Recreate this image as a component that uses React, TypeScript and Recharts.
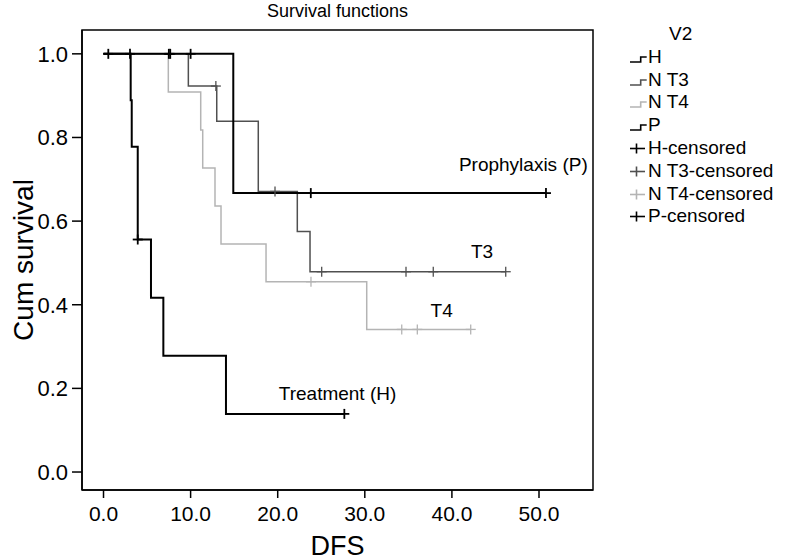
import {
  ComposedChart,
  Line,
  Scatter,
  XAxis,
  YAxis,
  ReferenceArea,
  ReferenceDot,
} from "recharts";

// Kaplan-Meier steps (time in DFS units, cumulative survival)
const hTimes = [0, 3.12, 3.24, 3.93, 5.45, 6.87, 14.06, 27.65];
const hSurv = [1, 0.889, 0.778, 0.556, 0.417, 0.278, 0.139, 0.139];
const hCensTimes = [3.93, 27.65];
const hCensSurv = [0.556, 0.139];

const t3Times = [0, 9.74, 13.0, 17.77, 22.25, 23.71, 46.18];
const t3Surv = [1, 0.923, 0.839, 0.671, 0.575, 0.479, 0.479];
const t3CensTimes = [12.9, 19.69, 25.05, 34.73, 37.86, 46.18];
const t3CensSurv = [0.923, 0.671, 0.479, 0.479, 0.479, 0.479];

const t4Times = [0, 7.44, 11.16, 11.39, 12.8, 13.49, 18.66, 30.22, 42.16];
const t4Surv = [1, 0.909, 0.818, 0.727, 0.636, 0.545, 0.455, 0.341, 0.341];
const t4CensTimes = [23.82, 34.24, 36.03, 42.16];
const t4CensSurv = [0.455, 0.341, 0.341, 0.341];

const pTimes = [0, 14.9, 50.8];
const pSurv = [1, 0.667, 0.667];
const pCensTimes = [0.55, 3.04, 7.5, 7.66, 10.0, 23.8, 50.8];
const pCensSurv = [1, 1, 1, 1, 1, 0.667, 0.667];

const xTicks = [0, 10, 20, 30, 40, 50];
const yTicks = [0, 0.2, 0.4, 0.6, 0.8, 1.0];

const legendLabels = ["H", "N T3", "N T4", "P"];

const X_MIN = -2.47;
const X_MAX = 56.2;
const Y_MIN = -0.043;
const Y_MAX = 1.057;

const FONT = "'Liberation Sans', Arial, Helvetica, sans-serif";

const BLACK = "#000000";
const DARK = "#505050";
const LIGHT = "#b4b4b4";
const colors = [BLACK, DARK, LIGHT, BLACK];
const widths = [2, 1.5, 1.5, 2];

const toPoints = (t: number[], s: number[]) => t.map((v, i) => ({ t: v, s: s[i] }));

const makeCross = (color: string, w: number) => (props: any) => {
  const { cx, cy } = props;
  if (cx == null || cy == null) return <g />;
  return (
    <g>
      <line x1={cx - 5} x2={cx + 5} y1={cy} y2={cy} stroke={color} strokeWidth={w} />
      <line x1={cx} x2={cx} y1={cy - 5} y2={cy + 5} stroke={color} strokeWidth={w} />
    </g>
  );
};

const annotations = [
  { t: 48.2, s: 0.735, text: "Prophylaxis (P)" },
  { t: 43.46, s: 0.527, text: "T3" },
  { t: 38.83, s: 0.386, text: "T4" },
  { t: 26.87, s: 0.189, text: "Treatment (H)" },
];

const ROW = 22.8;

function StepIcon({ color }: { color: string }) {
  return (
    <svg width={18} height={ROW} style={{ display: "block" }}>
      <polyline
        points="0,16 10.7,16 10.7,11 16.7,11"
        fill="none"
        stroke={color}
        strokeWidth={1.6}
      />
    </svg>
  );
}

function CrossIcon({ color }: { color: string }) {
  return (
    <svg width={18} height={ROW} style={{ display: "block" }}>
      <line x1={0} x2={15} y1={11.5} y2={11.5} stroke={color} strokeWidth={1.6} />
      <line x1={6.5} x2={6.5} y1={6.5} y2={16.5} stroke={color} strokeWidth={1.6} />
    </svg>
  );
}

function ChartLegend() {
  const rows = [
    ...legendLabels.map((l, i) => ({ label: l, icon: <StepIcon color={colors[i]} /> })),
    ...legendLabels.map((l, i) => ({
      label: l + "-censored",
      icon: <CrossIcon color={colors[i]} />,
    })),
  ];
  return (
    <div style={{ position: "absolute", left: 630, top: 23, fontFamily: FONT, fontSize: 19 }}>
      <div style={{ paddingLeft: 39, height: ROW, lineHeight: ROW + "px" }}>V2</div>
      {rows.map((r) => (
        <div key={r.label} style={{ display: "flex", alignItems: "center", height: ROW, lineHeight: ROW + "px" }}>
          {r.icon}
          <span>{r.label}</span>
        </div>
      ))}
    </div>
  );
}

export default function App() {
  const series = [
    toPoints(hTimes, hSurv),
    toPoints(t3Times, t3Surv),
    toPoints(t4Times, t4Surv),
    toPoints(pTimes, pSurv),
  ];
  const censored = [
    toPoints(hCensTimes, hCensSurv),
    toPoints(t3CensTimes, t3CensSurv),
    toPoints(t4CensTimes, t4CensSurv),
    toPoints(pCensTimes, pCensSurv),
  ];
  // draw light first so dark lines sit on top
  const order = [2, 1, 0, 3];

  return (
    <div
      style={{
        position: "absolute",
        left: 0,
        top: 0,
        width: 792,
        height: 560,
        background: "#fff",
        fontFamily: FONT,
      }}
    >
      <div
        style={{
          position: "absolute",
          left: 82,
          width: 511,
          top: 1,
          textAlign: "center",
          fontSize: 18,
        }}
      >
        Survival functions
      </div>
      <div
        style={{
          position: "absolute",
          left: 82,
          width: 511,
          top: 531,
          textAlign: "center",
          fontSize: 27,
        }}
      >
        DFS
      </div>
      <div
        style={{
          position: "absolute",
          left: 24,
          top: 260,
          transform: "translate(-50%, -50%) rotate(-90deg)",
          whiteSpace: "nowrap",
          fontSize: 28,
        }}
      >
        Cum survival
      </div>
      <ComposedChart
        width={792}
        height={560}
        margin={{ top: 30, right: 199, bottom: 0, left: 0 }}
        style={{ fontFamily: FONT }}
      >
        <XAxis
          dataKey="t"
          type="number"
          domain={[X_MIN, X_MAX]}
          ticks={xTicks}
          allowDataOverflow
          height={70}
          tickSize={8}
          tickMargin={8}
          tickFormatter={(v: number) => v.toFixed(1)}
          tick={{ fill: "#000", fontSize: 21 }}
          stroke="#000"
          strokeWidth={1.5}
        />
        <YAxis
          dataKey="s"
          type="number"
          domain={[Y_MIN, Y_MAX]}
          ticks={yTicks}
          allowDataOverflow
          width={82}
          tickSize={10}
          tickMargin={4}
          tickFormatter={(v: number) => v.toFixed(1)}
          tick={{ fill: "#000", fontSize: 22 }}
          stroke="#000"
          strokeWidth={1.5}
        />
        <ReferenceArea
          x1={X_MIN}
          x2={X_MAX}
          y1={Y_MIN}
          y2={Y_MAX}
          fill="none"
          stroke="#000"
          strokeWidth={1.5}
          ifOverflow="visible"
        />
        {order.map((i) => (
          <Line
            key={"l" + i}
            data={series[i]}
            dataKey="s"
            type="stepAfter"
            stroke={colors[i]}
            strokeWidth={widths[i]}
            dot={false}
            activeDot={false}
            isAnimationActive={false}
          />
        ))}
        {order.map((i) => (
          <Scatter
            key={"c" + i}
            data={censored[i]}
            dataKey="s"
            shape={makeCross(colors[i], widths[i] === 2 ? 1.8 : 1.3)}
            isAnimationActive={false}
          />
        ))}
        {annotations.map((a) => (
          <ReferenceDot
            key={a.text}
            x={a.t}
            y={a.s}
            r={0}
            fill="none"
            stroke="none"
            ifOverflow="visible"
            label={{ value: a.text, position: "center", fill: "#000", fontSize: 19 }}
          />
        ))}
      </ComposedChart>
      <ChartLegend />
    </div>
  );
}
